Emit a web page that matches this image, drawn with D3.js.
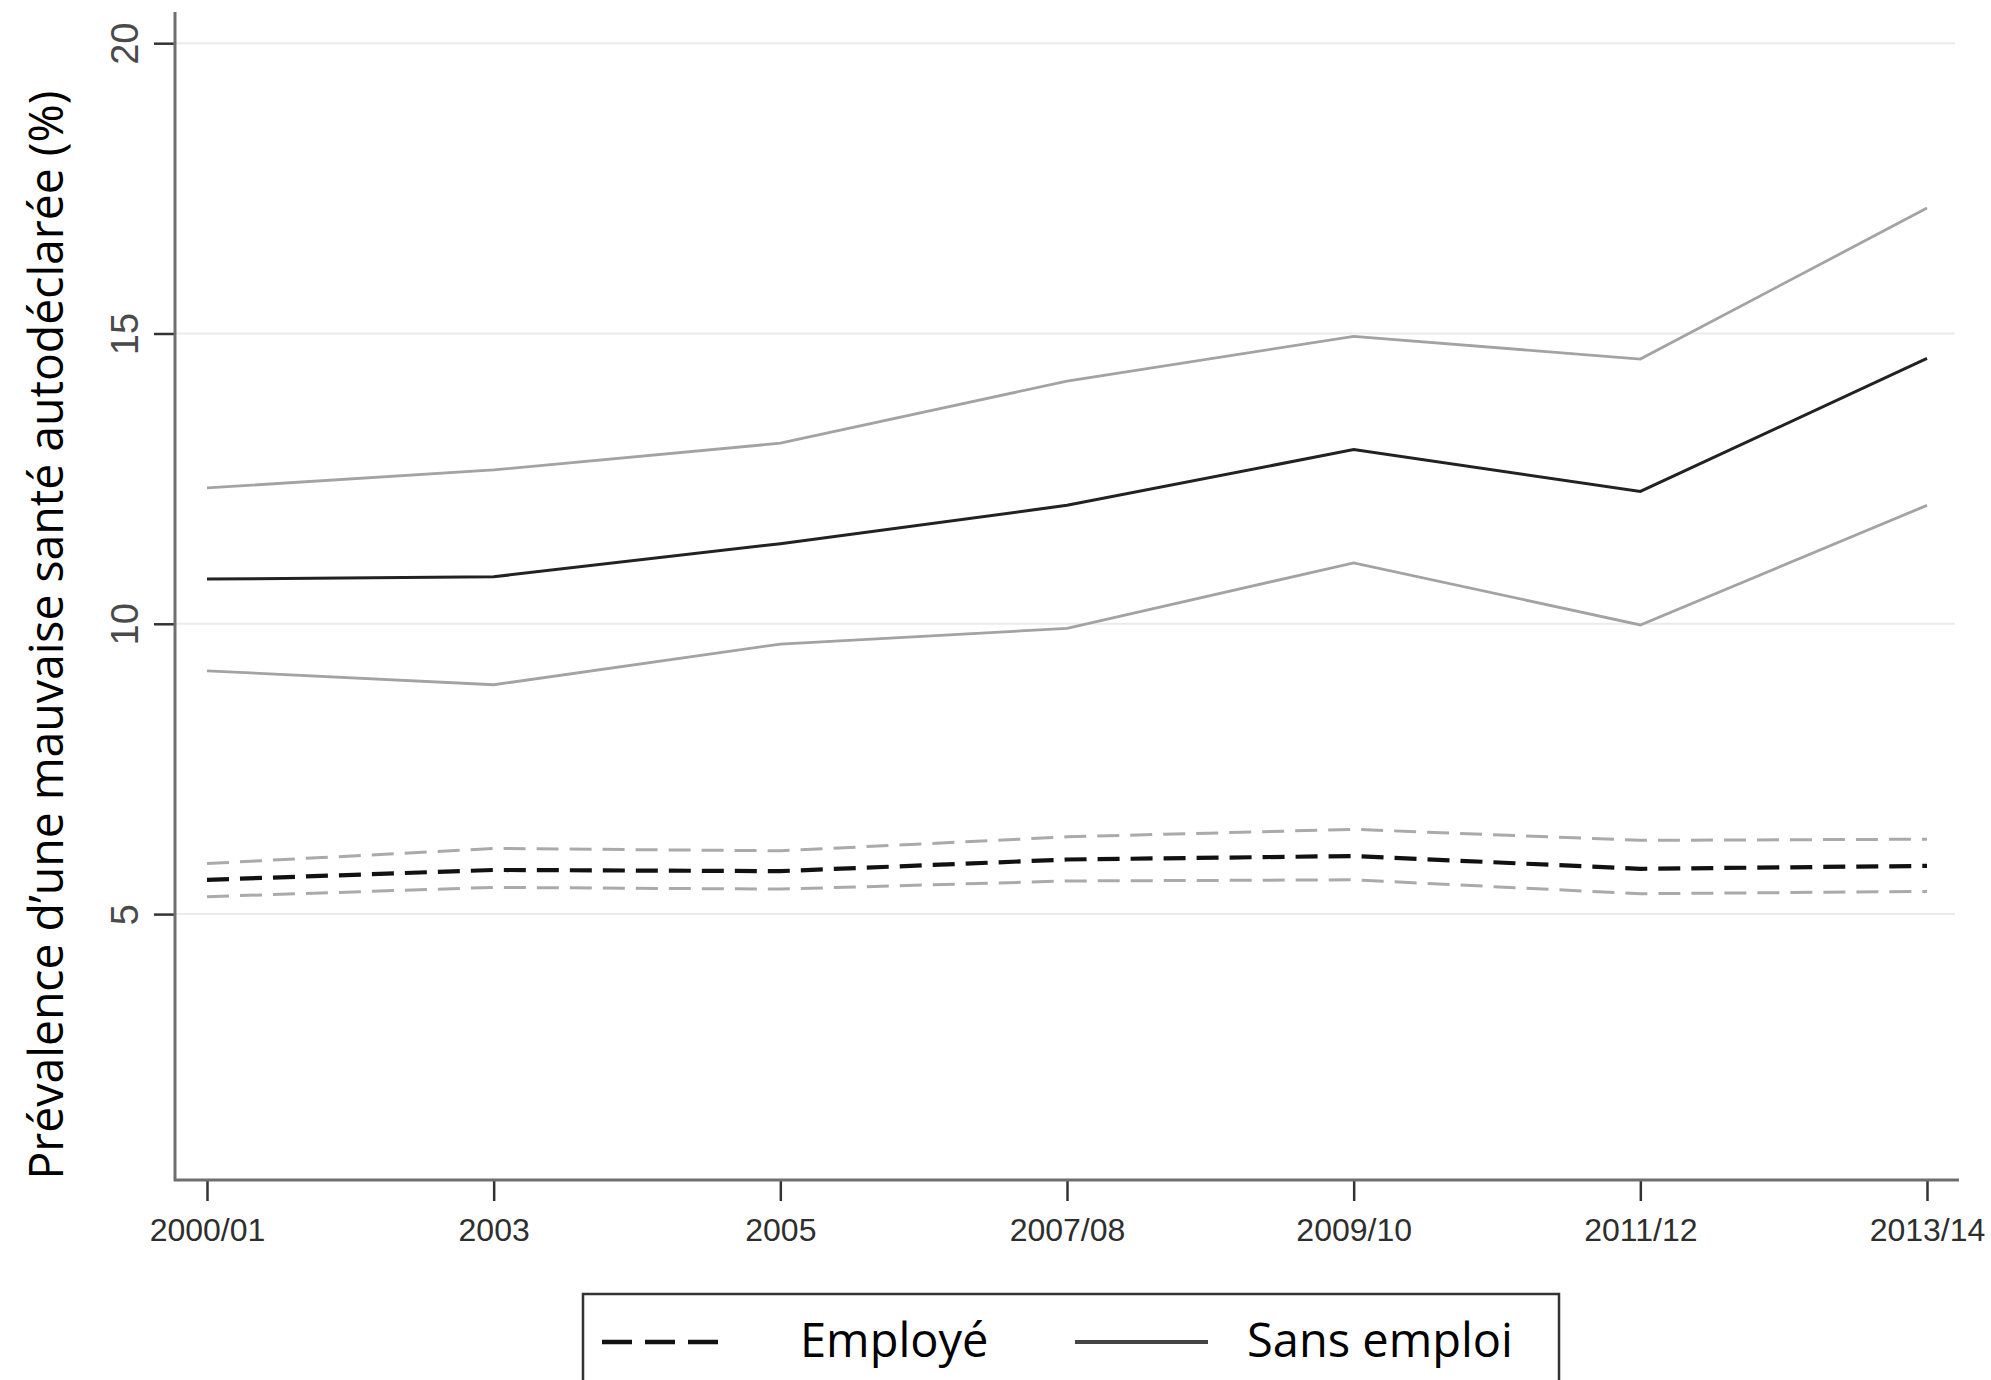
<!DOCTYPE html>
<html>
<head>
<meta charset="utf-8">
<script src="https://cdn.jsdelivr.net/npm/d3@7"></script>
<style>
  html, body { margin: 0; padding: 0; background: #fff; }
  svg { display: block; }
</style>
</head>
<body>
<svg id="chart" width="1991" height="1380"></svg>
<script>
// Survey waves
const periods = ["2000/01", "2003", "2005", "2007/08", "2009/10", "2011/12", "2013/14"];

// Employed: prevalence and 95% confidence bounds (%)
const employedMean  = [5.59, 5.76, 5.74, 5.94, 6.00, 5.78, 5.83];
const employedLow   = [5.30, 5.46, 5.43, 5.57, 5.59, 5.35, 5.39];
const employedHigh  = [5.87, 6.13, 6.09, 6.33, 6.46, 6.27, 6.29];

// Unemployed: prevalence and 95% confidence bounds (%)
const unemployedMean = [10.77, 10.81, 11.38, 12.04, 13.00, 12.28, 14.57];
const unemployedLow  = [9.19, 8.95, 9.65, 9.92, 11.05, 9.98, 12.04];
const unemployedHigh = [12.34, 12.65, 13.11, 14.18, 14.95, 14.56, 17.16];

const yTicks = [5, 10, 15, 20];
const legendLabels = ["Employé", "Sans emploi"];
const yTitle = "Prévalence d’une mauvaise santé autodéclarée (%)";

const svg = d3.select("#chart");

const x = d3.scalePoint().domain(periods).range([207, 1927]);
const y = d3.scaleLinear().domain([0.42, 20.52]).range([1180, 13]);

// light horizontal grid
svg.append("g")
  .selectAll("line")
  .data(yTicks)
  .join("line")
  .attr("x1", 176).attr("x2", 1955)
  .attr("y1", d => y(d)).attr("y2", d => y(d))
  .attr("stroke", "#ebebeb").attr("stroke-width", 2);

// y axis
const yAxis = svg.append("g")
  .attr("transform", "translate(175,0)")
  .call(d3.axisLeft(y).tickValues(yTicks).tickSize(21).tickPadding(16).tickFormat(d3.format("d")));
yAxis.select(".domain").remove();
yAxis.selectAll(".tick line").attr("stroke", "#333").attr("stroke-width", 2.5);
yAxis.selectAll(".tick text")
  .attr("transform", "rotate(-90)")
  .attr("x", 0).attr("y", -37)
  .attr("dy", 0)
  .attr("text-anchor", "middle")
  .attr("font-family", "'Liberation Sans', Arial, sans-serif")
  .attr("font-size", 38)
  .attr("fill", "#4a4a4a");
svg.append("line")
  .attr("x1", 175).attr("x2", 175).attr("y1", 12).attr("y2", 1181)
  .attr("stroke", "#6f6f6f").attr("stroke-width", 3);

// x axis
const xAxis = svg.append("g")
  .attr("transform", "translate(0,1180)")
  .call(d3.axisBottom(x).tickSize(21).tickPadding(16));
xAxis.select(".domain").remove();
xAxis.selectAll(".tick line").attr("stroke", "#333").attr("stroke-width", 2.5);
xAxis.selectAll(".tick text")
  .attr("y", 61).attr("dy", 0)
  .attr("font-family", "'Liberation Sans', Arial, sans-serif")
  .attr("font-size", 32)
  .attr("fill", "#2e2e2e");
svg.append("line")
  .attr("x1", 174).attr("x2", 1959).attr("y1", 1180).attr("y2", 1180)
  .attr("stroke", "#6f6f6f").attr("stroke-width", 3);

// series
const line = d3.line().x((d, i) => x(periods[i])).y(d => y(d));
const series = [
  { values: unemployedLow,  stroke: "#a3a3a3", width: 2.8, dash: null },
  { values: unemployedHigh, stroke: "#a3a3a3", width: 2.8, dash: null },
  { values: employedLow,    stroke: "#aaaaaa", width: 3, dash: "22 11" },
  { values: employedHigh,   stroke: "#aaaaaa", width: 3, dash: "22 11" },
  { values: unemployedMean, stroke: "#222222", width: 3, dash: null },
  { values: employedMean,   stroke: "#111111", width: 4.2, dash: "22 11" }
];
svg.append("g")
  .selectAll("path")
  .data(series)
  .join("path")
  .attr("d", d => line(d.values))
  .attr("fill", "none")
  .attr("stroke", d => d.stroke)
  .attr("stroke-width", d => d.width)
  .attr("stroke-dasharray", d => d.dash);

// y axis title
svg.append("text")
  .attr("transform", "translate(63,635) rotate(-90)")
  .attr("text-anchor", "middle")
  .attr("font-family", "'Open Sans', sans-serif")
  .attr("font-size", 47)
  .attr("fill", "#000")
  .attr("textLength", 1089)
  .attr("lengthAdjust", "spacingAndGlyphs")
  .text(yTitle);

// legend
const legend = svg.append("g");
legend.append("rect")
  .attr("x", 583).attr("y", 1294).attr("width", 976).attr("height", 140)
  .attr("fill", "#fff").attr("stroke", "#333").attr("stroke-width", 2.5);
legend.append("line")
  .attr("x1", 602).attr("x2", 718).attr("y1", 1342).attr("y2", 1342)
  .attr("stroke", "#111").attr("stroke-width", 4.5).attr("stroke-dasharray", "30 13");
legend.append("line")
  .attr("x1", 1075).attr("x2", 1208).attr("y1", 1342).attr("y2", 1342)
  .attr("stroke", "#444").attr("stroke-width", 4);
legend.selectAll("text")
  .data(legendLabels)
  .join("text")
  .attr("x", (d, i) => i === 0 ? 800 : 1247)
  .attr("y", 1357)
  .attr("font-family", "'Open Sans', sans-serif")
  .attr("font-size", 47)
  .attr("fill", "#000")
  .text(d => d);
</script>
</body>
</html>
